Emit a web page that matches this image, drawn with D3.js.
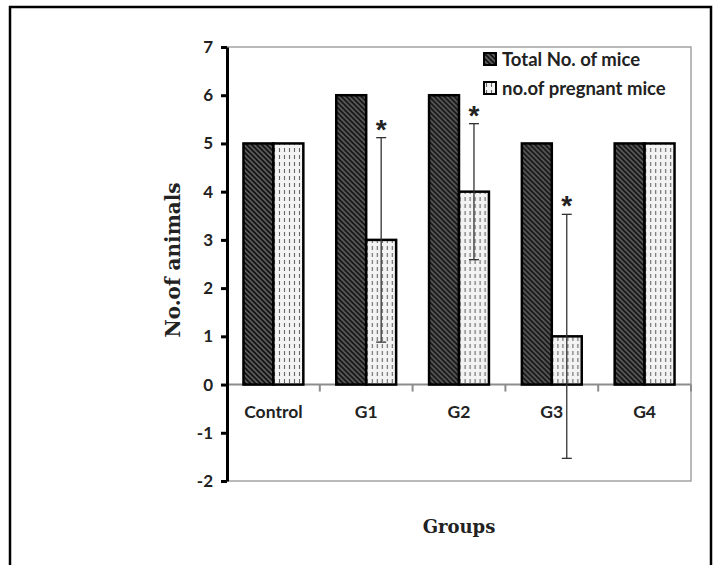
<!doctype html>
<html>
  <head>
    <meta charset="utf-8">
    <script src="https://cdnjs.cloudflare.com/ajax/libs/d3/7.8.5/d3.min.js"></script>
    <style>
      body { margin: 0; background: #fff; }
      .yaxis path.domain { stroke: #000; stroke-width: 3; }
      .yaxis line { stroke: #000; stroke-width: 3; }
      .yaxis text { font-family: Lato, "Open Sans", sans-serif; font-weight: bold; font-size: 17px; fill: #222; }
    </style>
  </head>
  <body>
    <svg id="chart" width="718" height="565"></svg>
    <script>
      // values
      var groups = ["Control", "G1", "G2", "G3", "G4"];
      var totalMice = [5, 6, 6, 5, 5];
      var pregnantMice = [5, 3, 4, 1, 5];
      var pregnantErr = [0, 2.12, 1.41, 2.53, 0];
      var significant = [false, true, true, true, false];
      var yTicks = [-2, -1, 0, 1, 2, 3, 4, 5, 6, 7];
      var seriesNames = ["Total No. of mice", "no.of pregnant mice"];

      var svg = d3.select("#chart");

      // patterns
      var defs = svg.append("defs");
      var hatch = defs.append("pattern").attr("id", "hatch")
        .attr("patternUnits", "userSpaceOnUse").attr("width", 5).attr("height", 5);
      hatch.append("rect").attr("width", 5).attr("height", 5).attr("fill", "#5a5a5a");
      hatch.append("path").attr("d", "M0,0 L5,5 M-1,4 L1,6 M4,-1 L6,1")
        .attr("stroke", "#111").attr("stroke-width", 1.6);

      var dots = defs.append("pattern").attr("id", "dots")
        .attr("patternUnits", "userSpaceOnUse").attr("width", 5).attr("height", 7);
      dots.append("rect").attr("width", 5).attr("height", 7).attr("fill", "#f3f3f3");
      dots.append("line").attr("x1", 2.5).attr("x2", 2.5).attr("y1", 1).attr("y2", 5)
        .attr("stroke", "#666").attr("stroke-width", 1.1);

      // outer frame
      svg.append("rect").attr("x", 10).attr("y", 7).attr("width", 701).attr("height", 600)
        .attr("fill", "none").attr("stroke", "#000").attr("stroke-width", 2.5);

      var x = d3.scaleBand().domain(groups).range([227, 691]);
      var x1 = d3.scaleBand().domain([0, 1]).range([0, x.bandwidth()]).paddingOuter(0.55);
      var y = d3.scaleLinear().domain([-2, 7]).range([481, 47]);

      // plot area border
      svg.append("rect").attr("x", x.range()[0]).attr("y", y(7))
        .attr("width", x.range()[1] - x.range()[0]).attr("height", y(-2) - y(7))
        .attr("fill", "none").attr("stroke", "#8c8c8c").attr("stroke-width", 1.2);

      // zero line + category ticks
      svg.append("line").attr("x1", x.range()[0]).attr("x2", x.range()[1])
        .attr("y1", y(0)).attr("y2", y(0)).attr("stroke", "#8c8c8c").attr("stroke-width", 2);
      svg.selectAll("line.ctick").data(groups.slice(1).concat(["end"])).enter().append("line")
        .attr("class", "ctick")
        .attr("x1", d => d === "end" ? x.range()[1] : x(d))
        .attr("x2", d => d === "end" ? x.range()[1] : x(d))
        .attr("y1", y(0)).attr("y2", y(0) + 7)
        .attr("stroke", "#8c8c8c").attr("stroke-width", 2);

      var g = svg.selectAll("g.grp").data(groups).enter().append("g")
        .attr("class", "grp")
        .attr("transform", d => "translate(" + x(d) + ",0)");

      g.append("rect")
        .attr("x", x1(0)).attr("width", x1.bandwidth())
        .attr("y", (d, i) => y(totalMice[i]))
        .attr("height", (d, i) => y(0) - y(totalMice[i]))
        .attr("fill", "url(#hatch)").attr("stroke", "#000").attr("stroke-width", 2.5);

      g.append("rect")
        .attr("x", x1(1)).attr("width", x1.bandwidth())
        .attr("y", (d, i) => y(pregnantMice[i]))
        .attr("height", (d, i) => y(0) - y(pregnantMice[i]))
        .attr("fill", "url(#dots)").attr("stroke", "#000").attr("stroke-width", 2.5);

      // error bars
      var errG = g.filter((d, i) => pregnantErr[i] > 0);
      var ex = x1(1) + x1.bandwidth() / 2;
      errG.append("line")
        .attr("x1", ex).attr("x2", ex)
        .attr("y1", d => { var i = groups.indexOf(d); return y(pregnantMice[i] + pregnantErr[i]); })
        .attr("y2", d => { var i = groups.indexOf(d); return y(pregnantMice[i] - pregnantErr[i]); })
        .attr("stroke", "#333").attr("stroke-width", 1.3);
      [1, -1].forEach(function (s) {
        errG.append("line")
          .attr("x1", ex - 5).attr("x2", ex + 5)
          .attr("y1", d => { var i = groups.indexOf(d); return y(pregnantMice[i] + s * pregnantErr[i]); })
          .attr("y2", d => { var i = groups.indexOf(d); return y(pregnantMice[i] + s * pregnantErr[i]); })
          .attr("stroke", "#333").attr("stroke-width", 1.3);
      });

      g.filter((d, i) => significant[i]).append("text")
        .attr("x", ex)
        .attr("y", d => { var i = groups.indexOf(d); return y(pregnantMice[i] + pregnantErr[i]) + 1; })
        .attr("text-anchor", "middle")
        .style("font-family", "Liberation Sans, sans-serif").style("font-weight", "bold")
        .style("font-size", "28px").style("fill", "#222")
        .text("*");

      // category labels
      svg.selectAll("text.cat").data(groups).enter().append("text")
        .attr("class", "cat")
        .attr("x", d => x(d) + x.bandwidth() / 2).attr("y", 418)
        .attr("text-anchor", "middle")
        .style("font-family", "Lato, sans-serif").style("font-weight", "bold")
        .style("font-size", "17.5px").style("fill", "#222")
        .text(d => d);

      // y axis
      var yAxis = d3.axisLeft(y).tickValues(yTicks).tickFormat(d => String(d))
        .tickSize(6).tickPadding(8).tickSizeOuter(0);
      svg.append("g").attr("class", "yaxis")
        .attr("transform", "translate(" + x.range()[0] + ",0)")
        .call(yAxis);

      // axis titles
      svg.append("text")
        .attr("transform", "translate(180,260) rotate(-90)")
        .attr("text-anchor", "middle")
        .style("font-family", "DejaVu Serif, serif").style("font-weight", "bold")
        .style("font-size", "20px").style("fill", "#222")
        .text("No.of animals");
      svg.append("text")
        .attr("x", 459).attr("y", 533)
        .attr("text-anchor", "middle")
        .style("font-family", "DejaVu Serif, serif").style("font-weight", "bold")
        .style("font-size", "18px").style("fill", "#222")
        .text("Groups");

      // legend
      var leg = svg.selectAll("g.leg").data(seriesNames).enter().append("g")
        .attr("class", "leg")
        .attr("transform", (d, i) => "translate(484," + (53 + i * 29) + ")");
      leg.append("rect").attr("width", 12).attr("height", 12)
        .attr("fill", (d, i) => i === 0 ? "url(#hatch)" : "url(#dots)")
        .attr("stroke", "#000").attr("stroke-width", 2);
      leg.append("text").attr("x", 18).attr("y", 12.5)
        .style("font-family", "Lato, sans-serif").style("font-weight", "bold")
        .style("font-size", "18.5px").style("fill", "#222")
        .text(d => d);
    </script>
  </body>
</html>
